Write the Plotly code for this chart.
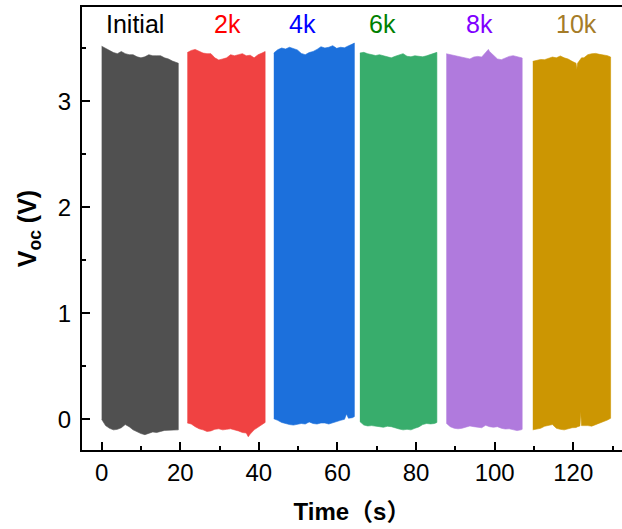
import plotly.graph_objects as go

# ---- data: envelope (upper / lower) of the dense Voc oscillation for each test block ----
labels = ["Initial", "2k", "4k", "6k", "8k", "10k"]

t_initial = [0, 1, 2, 3, 4, 5, 6, 7, 8, 9, 10, 11, 12, 13, 14, 15, 16, 17, 18, 19, 19.5]
top_initial = [3.52, 3.50, 3.48, 3.46, 3.45, 3.47, 3.45, 3.44, 3.44, 3.42, 3.41, 3.42, 3.44,
               3.43, 3.43, 3.43, 3.41, 3.40, 3.38, 3.37, 3.36]
bot_initial = [0.0, -0.06, -0.085, -0.10, -0.095, -0.08, -0.05, -0.07, -0.10, -0.12, -0.135,
               -0.145, -0.135, -0.12, -0.125, -0.115, -0.105, -0.10, -0.105, -0.10, -0.10]

t_2k = [21.8, 22.8, 23.8, 24.8, 25.8, 26.8, 27.8, 28.8, 29.8, 30.8, 31.8, 32.8, 33.8, 34.8,
        35.8, 36.8, 37.3, 37.8, 38.8, 39.8, 40.8, 41.6]
top_2k = [3.46, 3.48, 3.49, 3.47, 3.455, 3.45, 3.45, 3.41, 3.39, 3.40, 3.41, 3.44, 3.43, 3.44,
          3.45, 3.43, 3.435, 3.435, 3.41, 3.44, 3.455, 3.47]
bot_2k = [-0.035, -0.045, -0.07, -0.09, -0.10, -0.115, -0.11, -0.095, -0.09, -0.10, -0.095,
          -0.09, -0.10, -0.11, -0.125, -0.13, -0.165, -0.14, -0.10, -0.075, -0.05, -0.03]

t_4k = [43.8, 44.8, 45.8, 46.8, 47.8, 48.8, 49.8, 50.8, 51.8, 52.8, 53.8, 54.8, 55.8, 56.8,
        57.8, 58.8, 59.8, 60.8, 61.8, 62.3, 62.8, 63.8, 64.3]
top_4k = [3.456, 3.487, 3.503, 3.494, 3.51, 3.50, 3.485, 3.452, 3.44, 3.46, 3.47, 3.49, 3.515,
          3.503, 3.51, 3.525, 3.50, 3.51, 3.505, 3.515, 3.526, 3.54, 3.55]
bot_4k = [0.005, -0.01, -0.03, -0.04, -0.05, -0.055, -0.045, -0.04, -0.045, -0.025, -0.04,
          -0.045, -0.035, -0.035, -0.045, -0.035, -0.02, -0.01, 0.0, 0.05, 0.01, 0.015, 0.025]

t_6k = [65.7, 66.7, 67.7, 68.7, 69.7, 70.7, 71.7, 72.7, 73.7, 74.7, 75.7, 76.7, 77.7, 78.7,
        79.7, 80.7, 81.7, 82.7, 83.7, 84.7, 85.3]
top_6k = [3.456, 3.462, 3.449, 3.44, 3.432, 3.44, 3.431, 3.425, 3.41, 3.425, 3.435, 3.45, 3.425,
          3.42, 3.43, 3.424, 3.42, 3.43, 3.44, 3.455, 3.462]
bot_6k = [-0.022, -0.054, -0.063, -0.06, -0.063, -0.07, -0.076, -0.066, -0.07, -0.08, -0.092,
          -0.10, -0.095, -0.10, -0.085, -0.072, -0.05, -0.04, -0.044, -0.04, -0.03]

t_8k = [87.7, 88.7, 89.7, 90.7, 91.7, 92.7, 93.7, 94.7, 95.7, 96.7, 97.7, 98.4, 98.7, 99.7,
        100.7, 101.7, 102.7, 103.7, 104.7, 105.7, 106.7, 107.0]
top_8k = [3.449, 3.44, 3.431, 3.424, 3.418, 3.409, 3.40, 3.418, 3.424, 3.418, 3.456, 3.49, 3.47,
          3.43, 3.40, 3.393, 3.409, 3.424, 3.431, 3.424, 3.415, 3.409]
bot_8k = [-0.038, -0.07, -0.085, -0.09, -0.085, -0.076, -0.063, -0.07, -0.078, -0.08, -0.057,
          -0.065, -0.07, -0.076, -0.07, -0.085, -0.092, -0.09, -0.095, -0.107, -0.10, -0.095]

t_10k = [109.7, 110.7, 111.7, 112.7, 113.7, 114.7, 115.7, 116.7, 117.7, 118.7, 119.7, 120.7,
         120.9, 121.1, 121.7, 121.9, 122.1, 122.7, 123.7, 124.7, 125.7, 126.7, 127.7, 128.7, 129.5]
top_10k = [3.377, 3.386, 3.395, 3.393, 3.409, 3.418, 3.41, 3.428, 3.41, 3.399, 3.377, 3.36,
           3.30, 3.36, 3.39, 3.40, 3.41, 3.41, 3.44, 3.449, 3.452, 3.443, 3.438, 3.431, 3.418]
bot_10k = [-0.10, -0.095, -0.085, -0.066, -0.06, -0.05, -0.085, -0.095, -0.10, -0.09, -0.08,
           -0.078, -0.075, -0.07, -0.063, 0.07, -0.06, -0.06, -0.06, -0.065, -0.054, -0.038,
           -0.022, -0.007, 0.009]

times = [t_initial, t_2k, t_4k, t_6k, t_8k, t_10k]
tops = [top_initial, top_2k, top_4k, top_6k, top_8k, top_10k]
bots = [bot_initial, bot_2k, bot_4k, bot_6k, bot_8k, bot_10k]

fill_colors = ["#505050", "#F04242", "#1C70DC", "#38AD6C", "#B07ADD", "#CC9602"]
label_colors = ["#000000", "#FF0000", "#0000FF", "#008000", "#8000FF", "#A57C28"]
label_x = [8.5, 32.0, 51.0, 71.5, 96.2, 120.7]
label_y = [3.73, 3.73, 3.73, 3.73, 3.73, 3.73]

FONT = "Liberation Sans, Arial, Noto Sans CJK SC, sans-serif"

fig = go.Figure()
for t, top, bot, fc, name in zip(times, tops, bots, fill_colors, labels):
    xs = list(t) + list(reversed(t))
    ys = list(top) + list(reversed(bot))
    fig.add_trace(go.Scatter(
        x=xs, y=ys, mode="lines", fill="toself", fillcolor=fc,
        line=dict(color=fc, width=0.6), name=name, showlegend=False, hoverinfo="skip"))

for txt, x, y, c in zip(labels, label_x, label_y, label_colors):
    fig.add_annotation(x=x, y=y, text=txt, showarrow=False,
                       font=dict(family=FONT, size=25, color=c),
                       xanchor="center", yanchor="middle")

axis_common = dict(
    showline=True, linecolor="black", linewidth=2,
    ticks="inside", tickcolor="black", tickwidth=2, ticklen=8,
    showgrid=False, zeroline=False,
    tickfont=dict(family=FONT, size=24, color="black"),
)

fig.update_xaxes(
    range=[-5.0, 132.4], tick0=0, dtick=20, mirror=True,
    minor=dict(ticks="inside", dtick=10, ticklen=4, tickwidth=2, tickcolor="black"),
    title=dict(text="<b>Time（s）</b>", font=dict(family=FONT, size=24, color="black"), standoff=18),
    **axis_common)
fig.update_yaxes(
    range=[-0.29, 3.89], tick0=0, dtick=1,
    minor=dict(ticks="inside", dtick=0.5, ticklen=4, tickwidth=2, tickcolor="black"),
    title=dict(text="<b>V<sub>oc</sub> (V)</b>", font=dict(family=FONT, size=25, color="black"), standoff=14),
    ticklabelstandoff=4,
    **axis_common)

fig.update_layout(
    width=622, height=529,
    margin=dict(l=82, r=0, t=7, b=79),
    paper_bgcolor="white", plot_bgcolor="white",
)

fig.write_html("out.html")
